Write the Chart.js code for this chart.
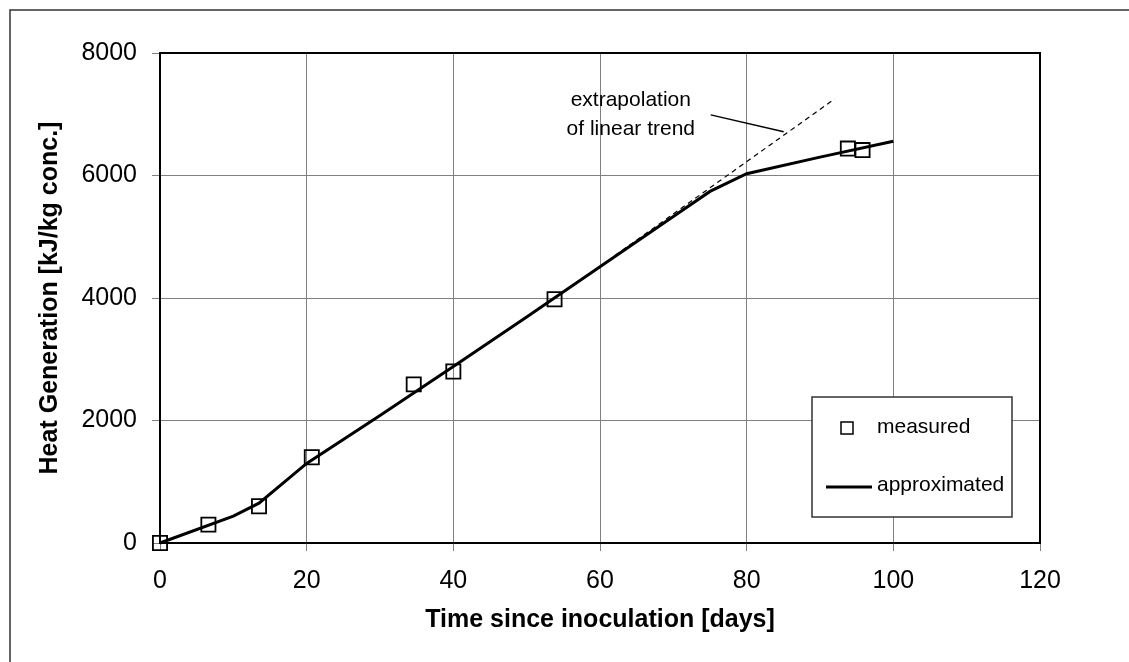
<!DOCTYPE html>
<html>
<head>
<meta charset="utf-8">
<script src="https://cdn.jsdelivr.net/npm/chart.js@4.4.1/dist/chart.umd.min.js"></script>
<style>
  html, body { margin: 0; padding: 0; background: #fff; }
  canvas { display: block; }
</style>
</head>
<body>
<canvas id="chart" width="1129" height="662"></canvas>
<script>
// measured values
const measuredDays = [0, 6.6, 13.5, 20.7, 34.6, 40, 53.8, 93.8, 95.8];
const measuredHeat = [0, 300, 600, 1400, 2590, 2800, 3980, 6440, 6415];

// approximated curve
const approxDays = [0, 10, 13.5, 20, 30, 40, 50, 60, 70, 75, 80, 90, 100];
const approxHeat = [0, 440, 650, 1300, 2080, 2880, 3690, 4510, 5330, 5740, 6030, 6300, 6560];

// dashed extrapolation of linear trend
const trendDays = [62, 92];
const trendHeat = [4690, 7250];

// pointer line from the note to the dashed line
const calloutDays = [75.1, 85.05];
const calloutHeat = [6990, 6715];

// note text (centre day, baseline heat per line)
const noteLines = ['extrapolation', 'of linear trend'];
const noteDay = 64.2;
const noteHeat = [7132, 6654];

const xTicks = [0, 20, 40, 60, 80, 100, 120];
const yTicks = [0, 2000, 4000, 6000, 8000];

const FONT = "'Liberation Sans', Arial, sans-serif";
Chart.defaults.font.family = FONT;
Chart.defaults.color = '#000';

function pts(xs, ys) {
    return xs.map((x, i) => ({x: x, y: ys[i]}));
}

const extras = {
    id: 'extras',
    afterDraw(chart) {
        const ctx = chart.ctx;
        const a = chart.chartArea;
        const xs = chart.scales.x, ys = chart.scales.y;
        ctx.save();

        // outer frame (left and top visible)
        ctx.strokeStyle = '#333';
        ctx.lineWidth = 1.5;
        ctx.beginPath();
        ctx.moveTo(10, chart.height);
        ctx.lineTo(10, 10);
        ctx.lineTo(chart.width, 10);
        ctx.stroke();

        // plot frame top + right
        ctx.strokeStyle = '#000';
        ctx.lineWidth = 2;
        ctx.beginPath();
        ctx.moveTo(a.left, a.top);
        ctx.lineTo(a.right, a.top);
        ctx.lineTo(a.right, a.bottom);
        ctx.stroke();

        // note text
        ctx.fillStyle = '#000';
        ctx.font = '21px ' + FONT;
        ctx.textAlign = 'center';
        ctx.textBaseline = 'alphabetic';
        noteLines.forEach((t, i) => {
            ctx.fillText(t, xs.getPixelForValue(noteDay), ys.getPixelForValue(noteHeat[i]));
        });

        // legend box
        const lx = 812, ly = 397, lw = 200, lh = 120;
        ctx.fillStyle = '#fff';
        ctx.fillRect(lx, ly, lw, lh);
        ctx.strokeStyle = '#333';
        ctx.lineWidth = 1.5;
        ctx.strokeRect(lx, ly, lw, lh);

        const ds = chart.data.datasets;
        ctx.strokeStyle = '#000';
        ctx.lineWidth = 1.5;
        ctx.strokeRect(841, 422, 12, 12);
        ctx.lineWidth = 3;
        ctx.beginPath();
        ctx.moveTo(826, 487);
        ctx.lineTo(872, 487);
        ctx.stroke();

        ctx.fillStyle = '#000';
        ctx.textAlign = 'left';
        ctx.fillText(ds[0].label, 877, 433);
        ctx.fillText(ds[1].label, 877, 491);
        ctx.restore();
    }
};

new Chart(document.getElementById('chart'), {
    type: 'scatter',
    data: {
        datasets: [
            {
                label: 'measured',
                data: pts(measuredDays, measuredHeat),
                showLine: false,
                pointStyle: 'rect',
                pointRadius: 10,
                pointBorderWidth: 1.8,
                pointBorderColor: '#000',
                pointBackgroundColor: 'rgba(0,0,0,0)',
                clip: false
            },
            {
                label: 'approximated',
                data: pts(approxDays, approxHeat),
                showLine: true,
                borderColor: '#000',
                borderWidth: 3,
                pointRadius: 0,
                tension: 0,
                clip: false
            },
            {
                label: 'trend',
                data: pts(trendDays, trendHeat),
                showLine: true,
                borderColor: '#000',
                borderWidth: 1.2,
                borderDash: [5, 4],
                pointRadius: 0,
                clip: false
            },
            {
                label: 'callout',
                data: pts(calloutDays, calloutHeat),
                showLine: true,
                borderColor: '#000',
                borderWidth: 1.5,
                pointRadius: 0,
                clip: false
            }
        ]
    },
    options: {
        responsive: false,
        devicePixelRatio: 1,
        animation: false,
        layout: { padding: { left: 20, right: 89, top: 53, bottom: 10 } },
        plugins: {
            legend: { display: false },
            tooltip: { enabled: false }
        },
        scales: {
            x: {
                type: 'linear',
                min: 0,
                max: 120,
                afterFit: (s) => { s.height = 109; },
                afterBuildTicks: (s) => { s.ticks = xTicks.map(v => ({value: v})); },
                ticks: { font: { size: 25 }, color: '#000', padding: 15, callback: (v) => String(v) },
                grid: { color: '#808080', lineWidth: 1, tickLength: 8 },
                border: { color: '#000', width: 2 },
                title: {
                    display: true,
                    text: 'Time since inoculation [days]',
                    font: { size: 25, weight: 'bold' },
                    color: '#000',
                    padding: { top: 0, bottom: 17 }
                }
            },
            y: {
                type: 'linear',
                min: 0,
                max: 8000,
                afterFit: (s) => { s.width = 140; },
                afterBuildTicks: (s) => { s.ticks = yTicks.map(v => ({value: v})); },
                ticks: { font: { size: 25 }, color: '#000', padding: 15, callback: (v) => String(v) },
                grid: { color: '#808080', lineWidth: 1, tickLength: 8 },
                border: { color: '#000', width: 2 },
                title: {
                    display: true,
                    text: 'Heat Generation [kJ/kg conc.]',
                    font: { size: 25, weight: 'bold' },
                    color: '#000',
                    padding: { top: 15, bottom: 0 }
                }
            }
        }
    },
    plugins: [extras]
});
</script>
</body>
</html>
